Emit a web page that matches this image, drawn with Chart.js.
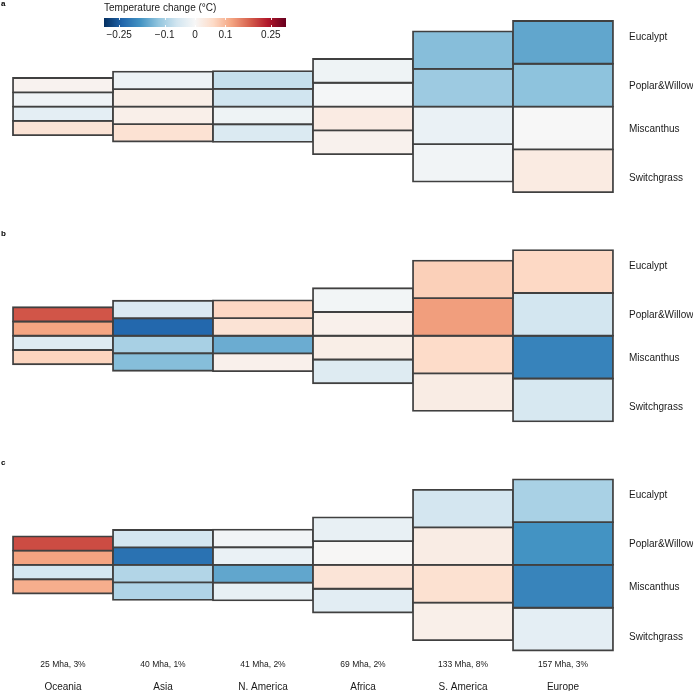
<!DOCTYPE html>
<html>
<head>
<meta charset="utf-8">
<script src="https://cdn.jsdelivr.net/npm/chart.js@4"></script>
<style>
  html, body { margin: 0; padding: 0; background: #ffffff; }
  #wrap { position: relative; width: 693px; height: 691px; }
  #main { position: absolute; left: 0; top: 0; }
  #cbar { position: absolute; left: 95px; top: 0; }
</style>
</head>
<body>
<div id="wrap">
  <canvas id="main" width="693" height="691"></canvas>
  <canvas id="cbar" width="200" height="45"></canvas>
</div>
<script>
// ---------------- data ----------------
const regions = ['Oceania', 'Asia', 'N. America', 'Africa', 'S. America', 'Europe'];
const areaMha = [25, 40, 41, 69, 133, 157];
const areaPct = [3, 1, 2, 2, 8, 3];
const crops = ['Eucalypt', 'Poplar&Willow', 'Miscanthus', 'Switchgrass'];
const panelLetters = ['a', 'b', 'c'];
const colorbarTicks = [-0.25, -0.1, 0, 0.1, 0.25];
const colorbarTitle = 'Temperature change (°C)';

// temperature change (°C), per crop, columns follow `regions`
const panelA_Eucalypt    = [0.010, -0.016, -0.070, -0.015, -0.128, -0.157];
const panelA_PoplarWillow= [-0.012, 0.020, -0.060, -0.004, -0.110, -0.123];
const panelA_Miscanthus  = [-0.030, 0.017, -0.015, 0.025, -0.020, 0.000];
const panelA_Switchgrass = [0.043, 0.045, -0.044, 0.012, -0.009, 0.026];

const panelB_Eucalypt    = [0.189, -0.046, 0.063, -0.008, 0.072, 0.062];
const panelB_PoplarWillow= [0.120, -0.237, 0.043, 0.015, 0.126, -0.057];
const panelB_Miscanthus  = [-0.040, -0.099, -0.150, 0.020, 0.058, -0.201];
const panelB_Switchgrass = [0.067, -0.129, 0.015, -0.040, 0.024, -0.050];

const panelC_Eucalypt    = [0.197, -0.056, -0.010, -0.024, -0.056, -0.098];
const panelC_PoplarWillow= [0.121, -0.224, -0.020, 0.003, 0.024, -0.180];
const panelC_Miscanthus  = [-0.055, -0.090, -0.157, 0.040, 0.048, -0.200];
const panelC_Switchgrass = [0.110, -0.091, -0.025, -0.033, 0.018, -0.030];

const panels = [
  [panelA_Eucalypt, panelA_PoplarWillow, panelA_Miscanthus, panelA_Switchgrass],
  [panelB_Eucalypt, panelB_PoplarWillow, panelB_Miscanthus, panelB_Switchgrass],
  [panelC_Eucalypt, panelC_PoplarWillow, panelC_Miscanthus, panelC_Switchgrass]
];

// ---------------- colour scale (RdBu, blue = cooling) ----------------
const CMIN = -0.3, CMAX = 0.3;
const RdBu = ['#053061','#2166ac','#4393c3','#92c5de','#d1e5f0','#f7f7f7',
              '#fddbc7','#f4a582','#d6604d','#b2182b','#67001f'];
function hex2rgb(h) { return [1,3,5].map(i => parseInt(h.substr(i,2),16)); }
function colorFor(v) {
  let t = (v - CMIN) / (CMAX - CMIN);
  t = Math.max(0, Math.min(1, t));
  const p = t * (RdBu.length - 1);
  const i = Math.min(Math.floor(p), RdBu.length - 2);
  const f = p - i;
  const a = hex2rgb(RdBu[i]), b = hex2rgb(RdBu[i+1]);
  const c = a.map((x, k) => Math.round(x + (b[k] - x) * f));
  return `rgb(${c[0]},${c[1]},${c[2]})`;
}

// ---------------- layout in value units ----------------
const PX_PER_UNIT = 0.864;       // vertical scale: pixels per unit
const HEIGHT_OFFSET = 41;        // column height = area + offset
const PANEL_CENTER0 = 123.3;
const PANEL_STEP = 265.3;
const LABEL_OFFSETS = [-80.7, -23.9, 26.3, 83.1];
const panelCenters = panelLetters.map((_, p) => PANEL_CENTER0 + p * PANEL_STEP);

const FONT = "'Liberation Sans', Arial, Helvetica, sans-serif";
Chart.defaults.font.family = FONT;
Chart.defaults.color = '#1a1a1a';

const datasets = [];
panels.forEach((panel, p) => {
  panel.forEach((vals, k) => {
    datasets.push({
      label: panelLetters[p] + ' ' + crops[k],
      data: regions.map((r, i) => {
        const h = areaMha[i] + HEIGHT_OFFSET;
        const top = panelCenters[p] - h / 2;
        return [top + k * h / 4, top + (k + 1) * h / 4];
      }),
      backgroundColor: vals.map(colorFor),
      borderColor: '#404040',
      borderWidth: 1.8,
      borderSkipped: false,
      categoryPercentage: 1,
      barPercentage: 1,
      inflateAmount: 0.9,
      clip: false
    });
  });
});

const letterPlugin = {
  id: 'panelLetters',
  afterDraw(chart) {
    const ctx = chart.ctx;
    ctx.save();
    ctx.font = 'bold 8px ' + FONT;
    ctx.fillStyle = '#000';
    ctx.textBaseline = 'middle';
    ctx.textAlign = 'left';
    const ys = [4, 234, 463];
    panelLetters.forEach((l, p) => ctx.fillText(l, 1, ys[p]));
    ctx.restore();
  }
};

const main = new Chart(document.getElementById('main'), {
  type: 'bar',
  data: { labels: regions, datasets },
  options: {
    responsive: false,
    animation: false,
    layout: { padding: { left: 13, top: 0, right: 0, bottom: 0 } },
    plugins: { legend: { display: false }, tooltip: { enabled: false }, title: { display: false } },
    scales: {
      x: {
        type: 'category', stacked: true, offset: true, position: 'bottom', weight: 2,
        grid: { display: false, drawTicks: false }, border: { display: false },
        ticks: { font: { size: 10 }, padding: 10, maxRotation: 0, color: '#1a1a1a' },
        afterFit: s => { s.height = 20; }
      },
      x2: {
        type: 'category', labels: areaMha.map((a, i) => `${a} Mha, ${areaPct[i]}%`),
        offset: true, position: 'bottom', weight: 1,
        grid: { display: false, drawTicks: false }, border: { display: false },
        ticks: { font: { size: 8.5 }, padding: 4, maxRotation: 0, color: '#1a1a1a' },
        afterFit: s => { s.height = 15; }
      },
      y: {
        type: 'linear', reverse: true, min: 0, max: 760, display: false
      },
      y2: {
        type: 'linear', reverse: true, min: 0, max: 760, position: 'right',
        grid: { display: false, drawTicks: false }, border: { display: false },
        afterBuildTicks: s => {
          s.ticks = panelCenters.flatMap(c => LABEL_OFFSETS.map(o => ({ value: c + o })));
        },
        ticks: {
          font: { size: 10 }, padding: 16, color: '#1a1a1a', autoSkip: false,
          callback: (v, i) => crops[i % crops.length]
        },
        afterFit: s => { s.width = 80; }
      }
    }
  },
  plugins: [letterPlugin]
});

// align the value axis so that unit 0 sits at the top of the canvas
(function alignY() {
  const ca = main.chartArea;
  const yMin = ca.top / PX_PER_UNIT;
  const yMax = yMin + (ca.bottom - ca.top) / PX_PER_UNIT;
  ['y', 'y2'].forEach(id => {
    main.options.scales[id].min = yMin;
    main.options.scales[id].max = yMax;
  });
  main.update('none');
})();

// ---------------- colour bar legend ----------------
const gradientPlugin = {
  id: 'gradientBar',
  beforeDatasetsDraw(chart) {
    const { ctx, chartArea: a, scales: { x } } = chart;
    const x0 = x.getPixelForValue(CMIN), x1 = x.getPixelForValue(CMAX);
    const g = ctx.createLinearGradient(x0, 0, x1, 0);
    RdBu.forEach((c, i) => g.addColorStop(i / (RdBu.length - 1), c));
    ctx.save();
    ctx.fillStyle = g;
    ctx.fillRect(x0, a.top, x1 - x0, a.bottom - a.top);
    ctx.strokeStyle = 'rgba(255,255,255,0.9)';
    ctx.lineWidth = 1;
    colorbarTicks.forEach(v => {
      const px = Math.round(x.getPixelForValue(v)) + 0.5;
      ctx.beginPath();
      ctx.moveTo(px, a.top); ctx.lineTo(px, a.top + 2);
      ctx.moveTo(px, a.bottom - 2); ctx.lineTo(px, a.bottom);
      ctx.stroke();
    });
    ctx.restore();
  }
};

new Chart(document.getElementById('cbar'), {
  type: 'scatter',
  data: { datasets: [{ data: [] }] },
  options: {
    responsive: false,
    animation: false,
    layout: { padding: { left: 9, right: 9, top: 0, bottom: 0 } },
    plugins: {
      legend: { display: false }, tooltip: { enabled: false },
      title: {
        display: true, text: colorbarTitle, align: 'start',
        font: { size: 10, weight: 'normal' }, color: '#1a1a1a',
        padding: { top: 2, bottom: 4 }
      }
    },
    scales: {
      x: {
        type: 'linear', min: CMIN, max: CMAX,
        grid: { display: false, drawTicks: false }, border: { display: false },
        afterBuildTicks: s => { s.ticks = colorbarTicks.map(v => ({ value: v })); },
        ticks: {
          font: { size: 10 }, padding: 2, color: '#1a1a1a', autoSkip: false, maxRotation: 0,
          callback: v => String(v).replace('-', '\u2212')
        },
        afterFit: s => { s.height = 18; }
      },
      y: { display: false, min: 0, max: 1 }
    }
  },
  plugins: [gradientPlugin]
});
</script>
</body>
</html>
